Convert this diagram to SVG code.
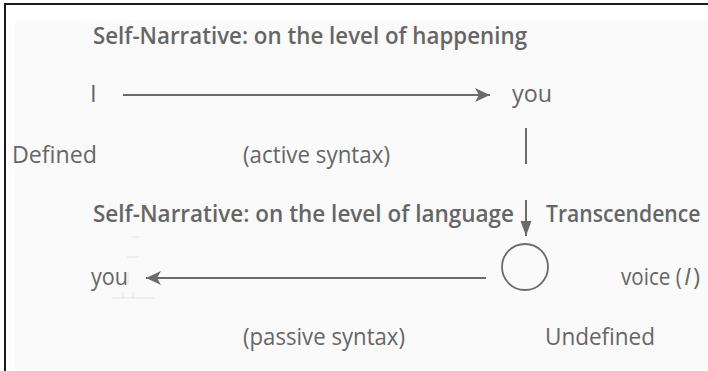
<svg xmlns="http://www.w3.org/2000/svg" width="708" height="371" viewBox="0 0 708 371">
<defs>
<style>
.t{font-family:"Open Sans","Noto Sans","Liberation Sans",sans-serif;font-size:24px;fill:#666666}
.b{font-weight:600}
.ln{stroke:#6b6b6b;stroke-width:2;fill:none}
.ghost{stroke:#e2e2e2;stroke-width:1;fill:none}
</style>
<marker id="ah" viewBox="-16 -8 17 16" refX="0" refY="0" markerWidth="17" markerHeight="16" markerUnits="userSpaceOnUse" orient="auto">
<path d="M0,0 L-15,-7 L-11,0 L-15,7 Z" fill="#6b6b6b"/>
</marker>
<marker id="ah2" viewBox="-16 -6 17 12" refX="0" refY="0" markerWidth="17" markerHeight="12" markerUnits="userSpaceOnUse" orient="auto">
<path d="M0,0 L-15,-5.5 L-15,5.5 Z" fill="#6b6b6b"/>
</marker>
</defs>
<rect x="0" y="0" width="708" height="371" fill="#ffffff"/>
<rect x="15" y="20" width="693" height="351" fill="#fafafa"/>
<path d="M5,371 V4 H708" stroke="#1a1a1a" stroke-width="2" fill="none"/>
<g id="ghosts">
<path class="ghost" d="M132,237 H139 M127,257 H139 M112,298 H154 M123,292 V298 M133,292 V298 M128,273 V285"/>
</g>
<g id="title1"><text class="t b" x="93" y="44" textLength="434" lengthAdjust="spacingAndGlyphs">Self-Narrative: on the level of happening</text></g>
<g id="I"><text class="t" x="90" y="102">I</text></g>
<g id="you1"><text class="t" x="512" y="102" textLength="40" lengthAdjust="spacingAndGlyphs">you</text></g>
<g id="defined"><text class="t" x="12" y="163" textLength="85" lengthAdjust="spacingAndGlyphs">Defined</text></g>
<g id="active"><text class="t" x="243" y="163" textLength="147" lengthAdjust="spacingAndGlyphs">(active syntax)</text></g>
<g id="title2"><text class="t b" x="93" y="222" textLength="421" lengthAdjust="spacingAndGlyphs">Self-Narrative: on the level of language</text></g>
<g id="transcendence"><text class="t b" transform="translate(546,222) scale(0.88,1)" x="0" y="0">Transcendence</text></g>
<g id="circle"><circle cx="525" cy="267" r="23" fill="none" stroke="#6b6b6b" stroke-width="1.8"/></g>
<g id="you2"><text class="t" x="91" y="285" textLength="37" lengthAdjust="spacingAndGlyphs">you</text></g>
<g id="voice">
<text class="t" transform="translate(621,285) scale(0.86,1)" x="0" y="0">voice (</text>
<text class="t" x="684" y="285" font-style="italic">I</text>
<text class="t" x="693" y="285">)</text>
</g>
<g id="passive"><text class="t" x="243" y="345" textLength="162" lengthAdjust="spacingAndGlyphs">(passive syntax)</text></g>
<g id="undefined"><text class="t" x="545" y="345" textLength="110" lengthAdjust="spacingAndGlyphs">Undefined</text></g>
<g id="connectors">
<line class="ln" x1="123" y1="95" x2="490" y2="95" marker-end="url(#ah)"/>
<line class="ln" x1="526" y1="128" x2="526" y2="164"/>
<line class="ln" x1="526" y1="200" x2="526" y2="236" marker-end="url(#ah2)"/>
<line class="ln" x1="486" y1="278" x2="146" y2="278" marker-end="url(#ah)"/>
</g>
</svg>
